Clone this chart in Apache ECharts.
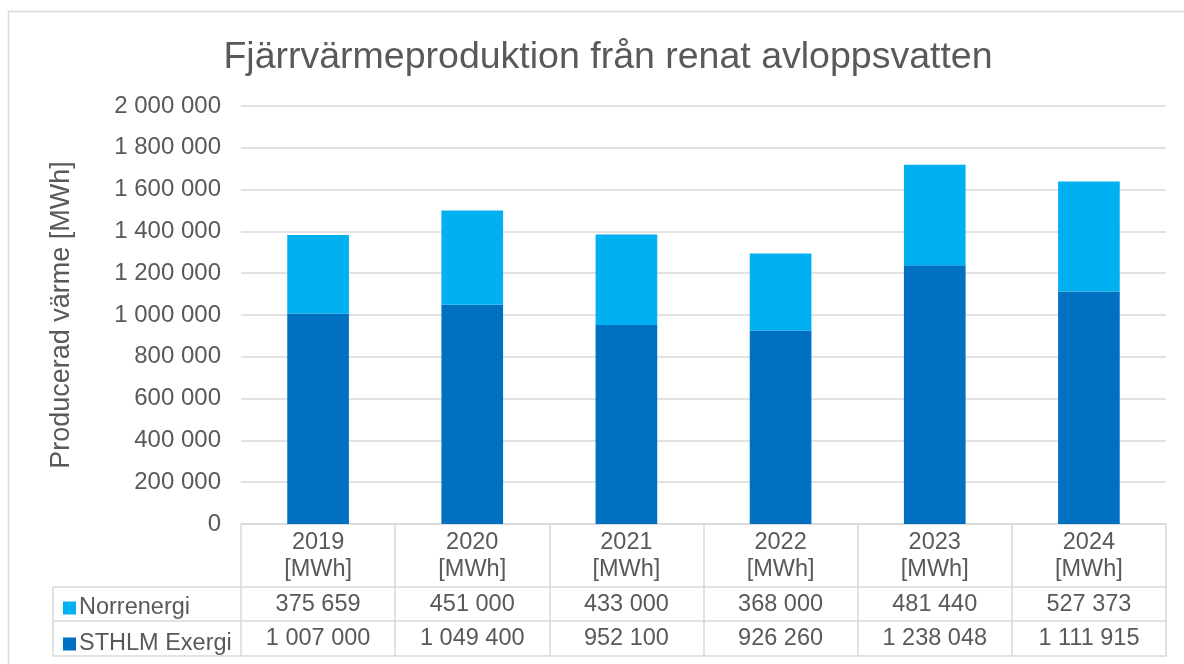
<!DOCTYPE html>
<html>
<head>
<meta charset="utf-8">
<script src="https://cdn.jsdelivr.net/npm/echarts@6/dist/echarts.min.js"></script>
<style>
  html, body { margin: 0; padding: 0; background: #fff; }
  #chart { width: 1184px; height: 664px; }
</style>
</head>
<body>
<div id="chart"></div>
<script>
// data
var years = ["2019", "2020", "2021", "2022", "2023", "2024"];
var norrenergi = [375659, 451000, 433000, 368000, 481440, 527373];
var sthlmExergi = [1007000, 1049400, 952100, 926260, 1238048, 1111915];
var seriesNames = ["Norrenergi", "STHLM Exergi"];

var FONT = "'Liberation Sans', Arial, sans-serif";
var TXT = "#595959";
var LINE = "#d9d9d9";

function fmt(v) {
  return String(v).replace(/\B(?=(\d{3})+(?!\d))/g, " ");
}

var myChart = echarts.init(document.getElementById("chart"));

var option = {
  backgroundColor: "#fff",
  animation: false,
  textStyle: { fontFamily: FONT },
  title: {
    text: "Fjärrvärmeproduktion från renat avloppsvatten",
    left: 603,
    textAlign: "center",
    top: 34,
    textStyle: { fontFamily: FONT, fontSize: 37.5, fontWeight: "normal", color: TXT }
  },
  legend: {
    data: seriesNames,
    orient: "vertical",
    left: 58,
    top: 591,
    icon: "rect",
    itemWidth: 13,
    itemHeight: 13,
    itemGap: 12,
    textStyle: { fontFamily: FONT, fontSize: 23.5, color: TXT, lineHeight: 22, padding: [0, 0, 0, -2] }
  },
  grid: { left: 241, right: 18, top: 106, bottom: 140 },
  yAxis: {
    type: "value",
    min: 0,
    max: 2000000,
    interval: 200000,
    name: "Producerad värme [MWh]",
    nameLocation: "middle",
    nameGap: 166,
    nameTextStyle: { fontFamily: FONT, fontSize: 27, color: TXT },
    axisLine: { show: false },
    axisTick: { show: false },
    axisLabel: { fontFamily: FONT, fontSize: 24, color: TXT, margin: 20, formatter: function (v) { return fmt(v); } },
    splitLine: { lineStyle: { color: LINE, width: 1.5 } }
  },
  xAxis: [
    {
      type: "category",
      data: years,
      position: "bottom",
      axisLine: { show: true, lineStyle: { color: LINE, width: 1.5 } },
      axisTick: { show: true, length: 132, interval: 0, lineStyle: { color: LINE, width: 1.5 } },
      axisLabel: {
        interval: 0,
        margin: 5,
        fontFamily: FONT, fontSize: 23.5, color: TXT, lineHeight: 27,
        formatter: function (v) { return v + "\n[MWh]"; }
      }
    },
    {
      type: "category",
      data: years,
      position: "bottom",
      offset: 63,
      axisLine: { show: true, lineStyle: { color: LINE, width: 1.5 } },
      axisTick: { show: false },
      axisLabel: {
        interval: 0, margin: 7,
        fontFamily: FONT, fontSize: 23.5, color: TXT, lineHeight: 22,
        formatter: function (v, i) { return fmt(norrenergi[i]); }
      }
    },
    {
      type: "category",
      data: years,
      position: "bottom",
      offset: 97,
      axisLine: { show: true, lineStyle: { color: LINE, width: 1.5 } },
      axisTick: { show: false },
      axisLabel: {
        interval: 0, margin: 7,
        fontFamily: FONT, fontSize: 23.5, color: TXT, lineHeight: 22,
        formatter: function (v, i) { return fmt(sthlmExergi[i]); }
      }
    },
    {
      type: "category",
      data: years,
      position: "bottom",
      offset: 132,
      axisLine: { show: true, lineStyle: { color: LINE, width: 1.5 } },
      axisTick: { show: false },
      axisLabel: { show: false }
    }
  ],
  graphic: [
    // outer chart border
    { type: "rect", shape: { x: 8.5, y: 11.5, width: 1300, height: 800 }, style: { fill: "none", stroke: LINE, lineWidth: 1.5 }, silent: true },
    // legend column of the data table
    { type: "line", shape: { x1: 53, y1: 587, x2: 241, y2: 587 }, style: { stroke: LINE, lineWidth: 1.5 } },
    { type: "line", shape: { x1: 53, y1: 621, x2: 241, y2: 621 }, style: { stroke: LINE, lineWidth: 1.5 } },
    { type: "line", shape: { x1: 53, y1: 656, x2: 241, y2: 656 }, style: { stroke: LINE, lineWidth: 1.5 } },
    { type: "line", shape: { x1: 53, y1: 587, x2: 53, y2: 656 }, style: { stroke: LINE, lineWidth: 1.5 } }
  ],
  series: [
    {
      name: "STHLM Exergi",
      type: "bar",
      stack: "total",
      barWidth: "40%",
      data: sthlmExergi,
      itemStyle: { color: "#0070C0" }
    },
    {
      name: "Norrenergi",
      type: "bar",
      stack: "total",
      barWidth: "40%",
      data: norrenergi,
      itemStyle: { color: "#00B0F0" }
    }
  ]
};

myChart.setOption(option);
</script>
</body>
</html>
